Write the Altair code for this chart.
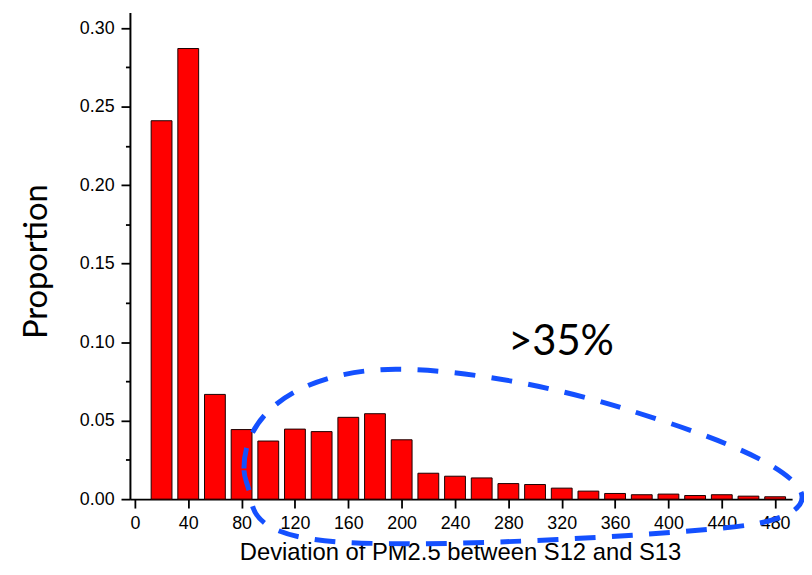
import altair as alt
import pandas as pd

# ---- data ----
bin_centers = [20, 40, 60, 80, 100, 120, 140, 160, 180, 200, 220, 240,
               260, 280, 300, 320, 340, 360, 380, 400, 420, 440, 460, 480]
proportions = [0.241, 0.287, 0.0667, 0.0443, 0.0370, 0.0446, 0.0430, 0.0521,
               0.0544, 0.0378, 0.0165, 0.0146, 0.0135, 0.0099, 0.0093, 0.0070,
               0.0051, 0.0036, 0.0028, 0.0032, 0.0023, 0.0028, 0.0019, 0.0015]
x_ticks = list(range(0, 481, 20))
y_ticks = [0.0, 0.025, 0.05, 0.075, 0.10, 0.125, 0.15, 0.175, 0.20, 0.225, 0.25, 0.275, 0.30]

annotation_text = ">35%"

df = pd.DataFrame({"center": bin_centers, "proportion": proportions})

# ---- hand-drawn dashed loop (annotation shape), offsets in px from its centre ----
R = 290.0
cx, cy = 528.0, 458.0
segs = [
    ("M", [(247, 470)]),
    ("C", [(247, 405), (320, 370), (400, 370)]),
    ("C", [(470, 370), (560, 388), (625, 408)]),
    ("C", [(690, 428), (790, 460), (808, 492)]),
    ("C", [(818, 510), (790, 522), (757, 527)]),
    ("C", [(700, 535), (520, 546), (420, 546)]),
    ("C", [(340, 546), (262, 545), (255, 505)]),
    ("C", [(251, 483), (247, 482), (247, 470)]),
]
parts = []
for cmd, pts in segs:
    coords = " ".join(f"{(px - cx) / R:.4f} {(py - cy) / R:.4f}" for px, py in pts)
    parts.append(f"{cmd} {coords}")
loop_path = " ".join(parts) + " Z"

W, H = 668, 491
x_scale = alt.Scale(domain=[0, 489], nice=False, zero=False)
y_scale = alt.Scale(domain=[0, 0.31], nice=False)

x_axis = alt.Axis(
    values=x_ticks,
    labelExpr="datum.value % 40 === 0 ? datum.label : ''",
    format="d",
    title="Deviation of PM2.5 between S12 and S13",
    titleFont="Liberation Sans", titleFontSize=24, titleFontWeight="normal",
    titleColor="black", titleX=333, titleY=61, titleBaseline="alphabetic",
    labelFont="Liberation Sans", labelFontSize=18, labelColor="black",
    labelPadding=7, labelFlush=False, labelOverlap=False,
    tickSize={"condition": {"test": "datum.value % 40 === 0", "value": 9}, "value": 5},
    tickWidth=1.8, tickColor="black",
    domainWidth=2, domainColor="black", grid=False,
)
y_axis = alt.Axis(
    values=y_ticks,
    format=".2f",
    labelExpr="abs(datum.value / 0.05 - round(datum.value / 0.05)) < 1e-6 ? datum.label : ''",
    title="Proportion",
    titleFont="Lato", titleFontSize=33, titleFontWeight="normal", titleColor="black",
    titleX=-84, titleY=251, titleBaseline="alphabetic", titleAngle=270,
    labelFont="Liberation Sans", labelFontSize=18, labelColor="black",
    labelPadding=7, labelFlush=False, labelOverlap=False,
    tickSize={"condition": {"test": "abs(datum.value / 0.05 - round(datum.value / 0.05)) < 1e-6", "value": 9}, "value": 4.5},
    tickWidth=1.8, tickColor="black",
    domainWidth=2, domainColor="black", grid=False,
)

bars = alt.Chart(df).mark_bar(
    color="#ff0000", stroke="#1a0000", strokeWidth=1, size=21
).encode(
    x=alt.X("center:Q", scale=x_scale, axis=x_axis),
    y=alt.Y("proportion:Q", scale=y_scale, axis=y_axis),
)

label = alt.Chart(pd.DataFrame({"t": [annotation_text]})).mark_text(
    font="Lato", fontSize=42, color="black", align="center", baseline="alphabetic"
).encode(
    x=alt.datum(319.5, scale=x_scale),
    y=alt.datum(0.0915, scale=y_scale),
    text="t:N",
)

loop = alt.Chart(pd.DataFrame({"k": [0]})).mark_point(
    shape=loop_path, size=(2 * R) ** 2, filled=False, fill=None,
    stroke="#1450ff", strokeWidth=5, strokeDash=[21, 16.5], strokeCap="butt",
    opacity=1,
).encode(
    x=alt.datum(290.6, scale=x_scale),
    y=alt.datum(0.02715, scale=y_scale),
)

chart = alt.layer(bars, label, loop).properties(
    width=W, height=H,
    autosize=alt.AutoSizeParams(type="none"),
    padding={"left": 123, "top": 2, "right": 12, "bottom": 64},
).configure_view(stroke=None)

chart.save("out.html", embed_options={"renderer": "svg", "actions": False})
